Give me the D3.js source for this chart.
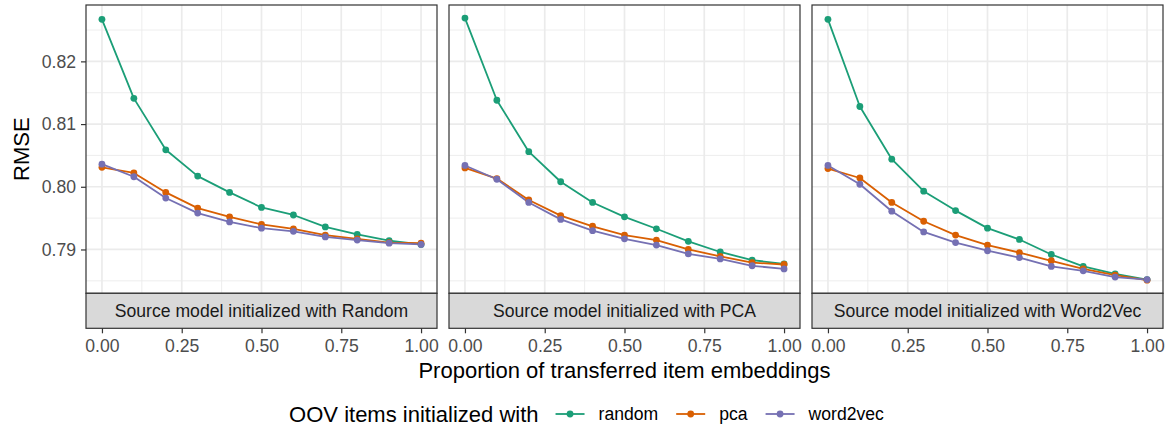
<!DOCTYPE html>
<html>
<head>
<meta charset="utf-8">
<script src="https://cdn.jsdelivr.net/npm/d3@7"></script>
<style>
  html, body { margin: 0; padding: 0; background: #fff; }
  svg { display: block; font-family: "Liberation Sans", Arial, Helvetica, sans-serif; }
</style>
</head>
<body>
<svg id="chart" width="1173" height="429"></svg>
<script>
// ---- data ----
const proportions = [0, 0.1, 0.2, 0.3, 0.4, 0.5, 0.6, 0.7, 0.8, 0.9, 1.0];
const panels = ["Source model initialized with Random", "Source model initialized with PCA", "Source model initialized with Word2Vec"];
const seriesNames = ["random", "pca", "word2vec"];
const seriesColors = ["#1B9E77", "#D95F02", "#7570B3"];

// panel 1: source Random
const p1Random   = [0.8267, 0.8141, 0.8059, 0.8017, 0.7991, 0.7967, 0.7955, 0.7936, 0.7924, 0.7914, 0.7908];
const p1Pca      = [0.8031, 0.8022, 0.7991, 0.7966, 0.7952, 0.7940, 0.7933, 0.7923, 0.7917, 0.7911, 0.7910];
const p1Word2vec = [0.8036, 0.8016, 0.7982, 0.7958, 0.7944, 0.7934, 0.7929, 0.7920, 0.7915, 0.7910, 0.7908];
// panel 2: source PCA
const p2Random   = [0.8269, 0.8138, 0.8056, 0.8008, 0.7975, 0.7952, 0.7933, 0.7913, 0.7896, 0.7883, 0.7877];
const p2Pca      = [0.8030, 0.8013, 0.7979, 0.7954, 0.7937, 0.7923, 0.7915, 0.7900, 0.7889, 0.7879, 0.7876];
const p2Word2vec = [0.8034, 0.8012, 0.7975, 0.7948, 0.7930, 0.7917, 0.7907, 0.7893, 0.7885, 0.7874, 0.7869];
// panel 3: source Word2Vec
const p3Random   = [0.8267, 0.8128, 0.8044, 0.7993, 0.7962, 0.7934, 0.7916, 0.7892, 0.7873, 0.7861, 0.7852];
const p3Pca      = [0.8029, 0.8014, 0.7975, 0.7945, 0.7923, 0.7907, 0.7895, 0.7882, 0.7869, 0.7859, 0.7851];
const p3Word2vec = [0.8034, 0.8004, 0.7961, 0.7928, 0.7911, 0.7898, 0.7887, 0.7873, 0.7866, 0.7856, 0.7852];

const xTicks = [0, 0.25, 0.5, 0.75, 1.0];
const xMinor = [0.125, 0.375, 0.625, 0.875];
const yTicks = [0.79, 0.80, 0.81, 0.82];
const yMinor = [0.785, 0.795, 0.805, 0.815, 0.825];

const xTitle = "Proportion of transferred item embeddings";
const yTitle = "RMSE";
const legendTitle = "OOV items initialized with";

const panelData = [
  [p1Random, p1Pca, p1Word2vec],
  [p2Random, p2Pca, p2Word2vec],
  [p3Random, p3Pca, p3Word2vec]
];

// ---- layout ----
const svg = d3.select("#chart");
const panelLefts = [86, 449, 812];
const panelW = 351;
const panelTop = 5, panelBottom = 293.3;
const stripH = 35;

const allVals = panelData.flat(2);
const yMin = d3.min(allVals), yMax = d3.max(allVals);
const yPad = (yMax - yMin) * 0.05;
const y = d3.scaleLinear().domain([yMin - yPad, yMax + yPad]).range([panelBottom, panelTop]);

const tickCol = "#4d4d4d";
const gridCol = "#ebebeb";
const borderCol = "#333333";
const smallFont = 17.6, bigFont = 22;

panelData.forEach((series, pi) => {
  const x0 = panelLefts[pi];
  const x = d3.scaleLinear().domain([-0.05, 1.05]).range([x0, x0 + panelW]);
  const g = svg.append("g");

  g.append("rect").attr("x", x0).attr("y", panelTop).attr("width", panelW).attr("height", panelBottom - panelTop).attr("fill", "#fff");

  // minor grid
  g.selectAll(".ym").data(yMinor).join("line")
    .attr("x1", x0).attr("x2", x0 + panelW).attr("y1", d => y(d)).attr("y2", d => y(d))
    .attr("stroke", gridCol).attr("stroke-width", 0.9);
  g.selectAll(".xm").data(xMinor).join("line")
    .attr("y1", panelTop).attr("y2", panelBottom).attr("x1", d => x(d)).attr("x2", d => x(d))
    .attr("stroke", gridCol).attr("stroke-width", 0.9);
  // major grid
  g.selectAll(".yM").data(yTicks).join("line")
    .attr("x1", x0).attr("x2", x0 + panelW).attr("y1", d => y(d)).attr("y2", d => y(d))
    .attr("stroke", gridCol).attr("stroke-width", 1.7);
  g.selectAll(".xM").data(xTicks).join("line")
    .attr("y1", panelTop).attr("y2", panelBottom).attr("x1", d => x(d)).attr("x2", d => x(d))
    .attr("stroke", gridCol).attr("stroke-width", 1.7);

  // lines
  const line = d3.line().x((d, i) => x(proportions[i])).y(d => y(d));
  series.forEach((vals, si) => {
    g.append("path").datum(vals).attr("d", line)
      .attr("fill", "none").attr("stroke", seriesColors[si]).attr("stroke-width", 1.8)
      .attr("stroke-linejoin", "round");
  });
  series.forEach((vals, si) => {
    g.selectAll(null).data(vals).join("circle")
      .attr("cx", (d, i) => x(proportions[i])).attr("cy", d => y(d)).attr("r", 3.4)
      .attr("fill", seriesColors[si]);
  });

  // panel border
  g.append("rect").attr("x", x0).attr("y", panelTop).attr("width", panelW).attr("height", panelBottom - panelTop)
    .attr("fill", "none").attr("stroke", borderCol).attr("stroke-width", 1.2);

  // strip (below panel)
  g.append("rect").attr("x", x0).attr("y", panelBottom).attr("width", panelW).attr("height", stripH)
    .attr("fill", "#d9d9d9").attr("stroke", borderCol).attr("stroke-width", 1.2);
  g.append("text").attr("x", x0 + panelW / 2).attr("y", panelBottom + stripH / 2)
    .attr("text-anchor", "middle").attr("dominant-baseline", "central")
    .attr("font-size", smallFont).attr("fill", "#1a1a1a").text(panels[pi]);

  // x axis (below strip)
  const xAxis = d3.axisBottom(x).tickValues(xTicks).tickFormat(d3.format(".2f")).tickSize(5).tickPadding(6);
  const ax = g.append("g").attr("transform", `translate(0,${panelBottom + stripH})`).call(xAxis);
  ax.select(".domain").remove();
  ax.selectAll(".tick line").attr("stroke", borderCol).attr("stroke-width", 1.2);
  ax.selectAll(".tick text").attr("font-size", smallFont).attr("fill", tickCol).attr("font-family", null);

  // y axis on first panel
  if (pi === 0) {
    const yAxis = d3.axisLeft(y).tickValues(yTicks).tickFormat(d3.format(".2f")).tickSize(5).tickPadding(5);
    const ay = g.append("g").attr("transform", `translate(${x0},0)`).call(yAxis);
    ay.select(".domain").remove();
    ay.selectAll(".tick line").attr("stroke", borderCol).attr("stroke-width", 1.2);
    ay.selectAll(".tick text").attr("font-size", smallFont).attr("fill", tickCol).attr("font-family", null);
  }
});

// axis titles
svg.append("text").attr("x", (panelLefts[0] + panelLefts[2] + panelW) / 2).attr("y", 378)
  .attr("text-anchor", "middle").attr("font-size", bigFont).attr("fill", "#000").text(xTitle);
svg.append("text").attr("transform", `translate(28.5,${(panelTop + panelBottom) / 2}) rotate(-90)`)
  .attr("text-anchor", "middle").attr("font-size", bigFont).attr("fill", "#000").text(yTitle);

// legend
const leg = svg.append("g");
const legY = 414;
let cx = 0;
const lt = leg.append("text").attr("x", cx).attr("y", legY).attr("dominant-baseline", "central")
  .attr("font-size", bigFont).attr("fill", "#000").text(legendTitle);
cx += lt.node().getComputedTextLength() + 17;
seriesNames.forEach((name, i) => {
  leg.append("line").attr("x1", cx).attr("x2", cx + 29).attr("y1", legY).attr("y2", legY)
    .attr("stroke", seriesColors[i]).attr("stroke-width", 1.8);
  leg.append("circle").attr("cx", cx + 14.5).attr("cy", legY).attr("r", 3.4).attr("fill", seriesColors[i]);
  cx += 29 + 14;
  const t = leg.append("text").attr("x", cx).attr("y", legY).attr("dominant-baseline", "central")
    .attr("font-size", smallFont).attr("fill", "#000").text(name);
  cx += t.node().getComputedTextLength() + (i < seriesNames.length - 1 ? 18 : 0);
});
leg.attr("transform", `translate(${1173 / 2 - cx / 2},0)`);
</script>
</body>
</html>
